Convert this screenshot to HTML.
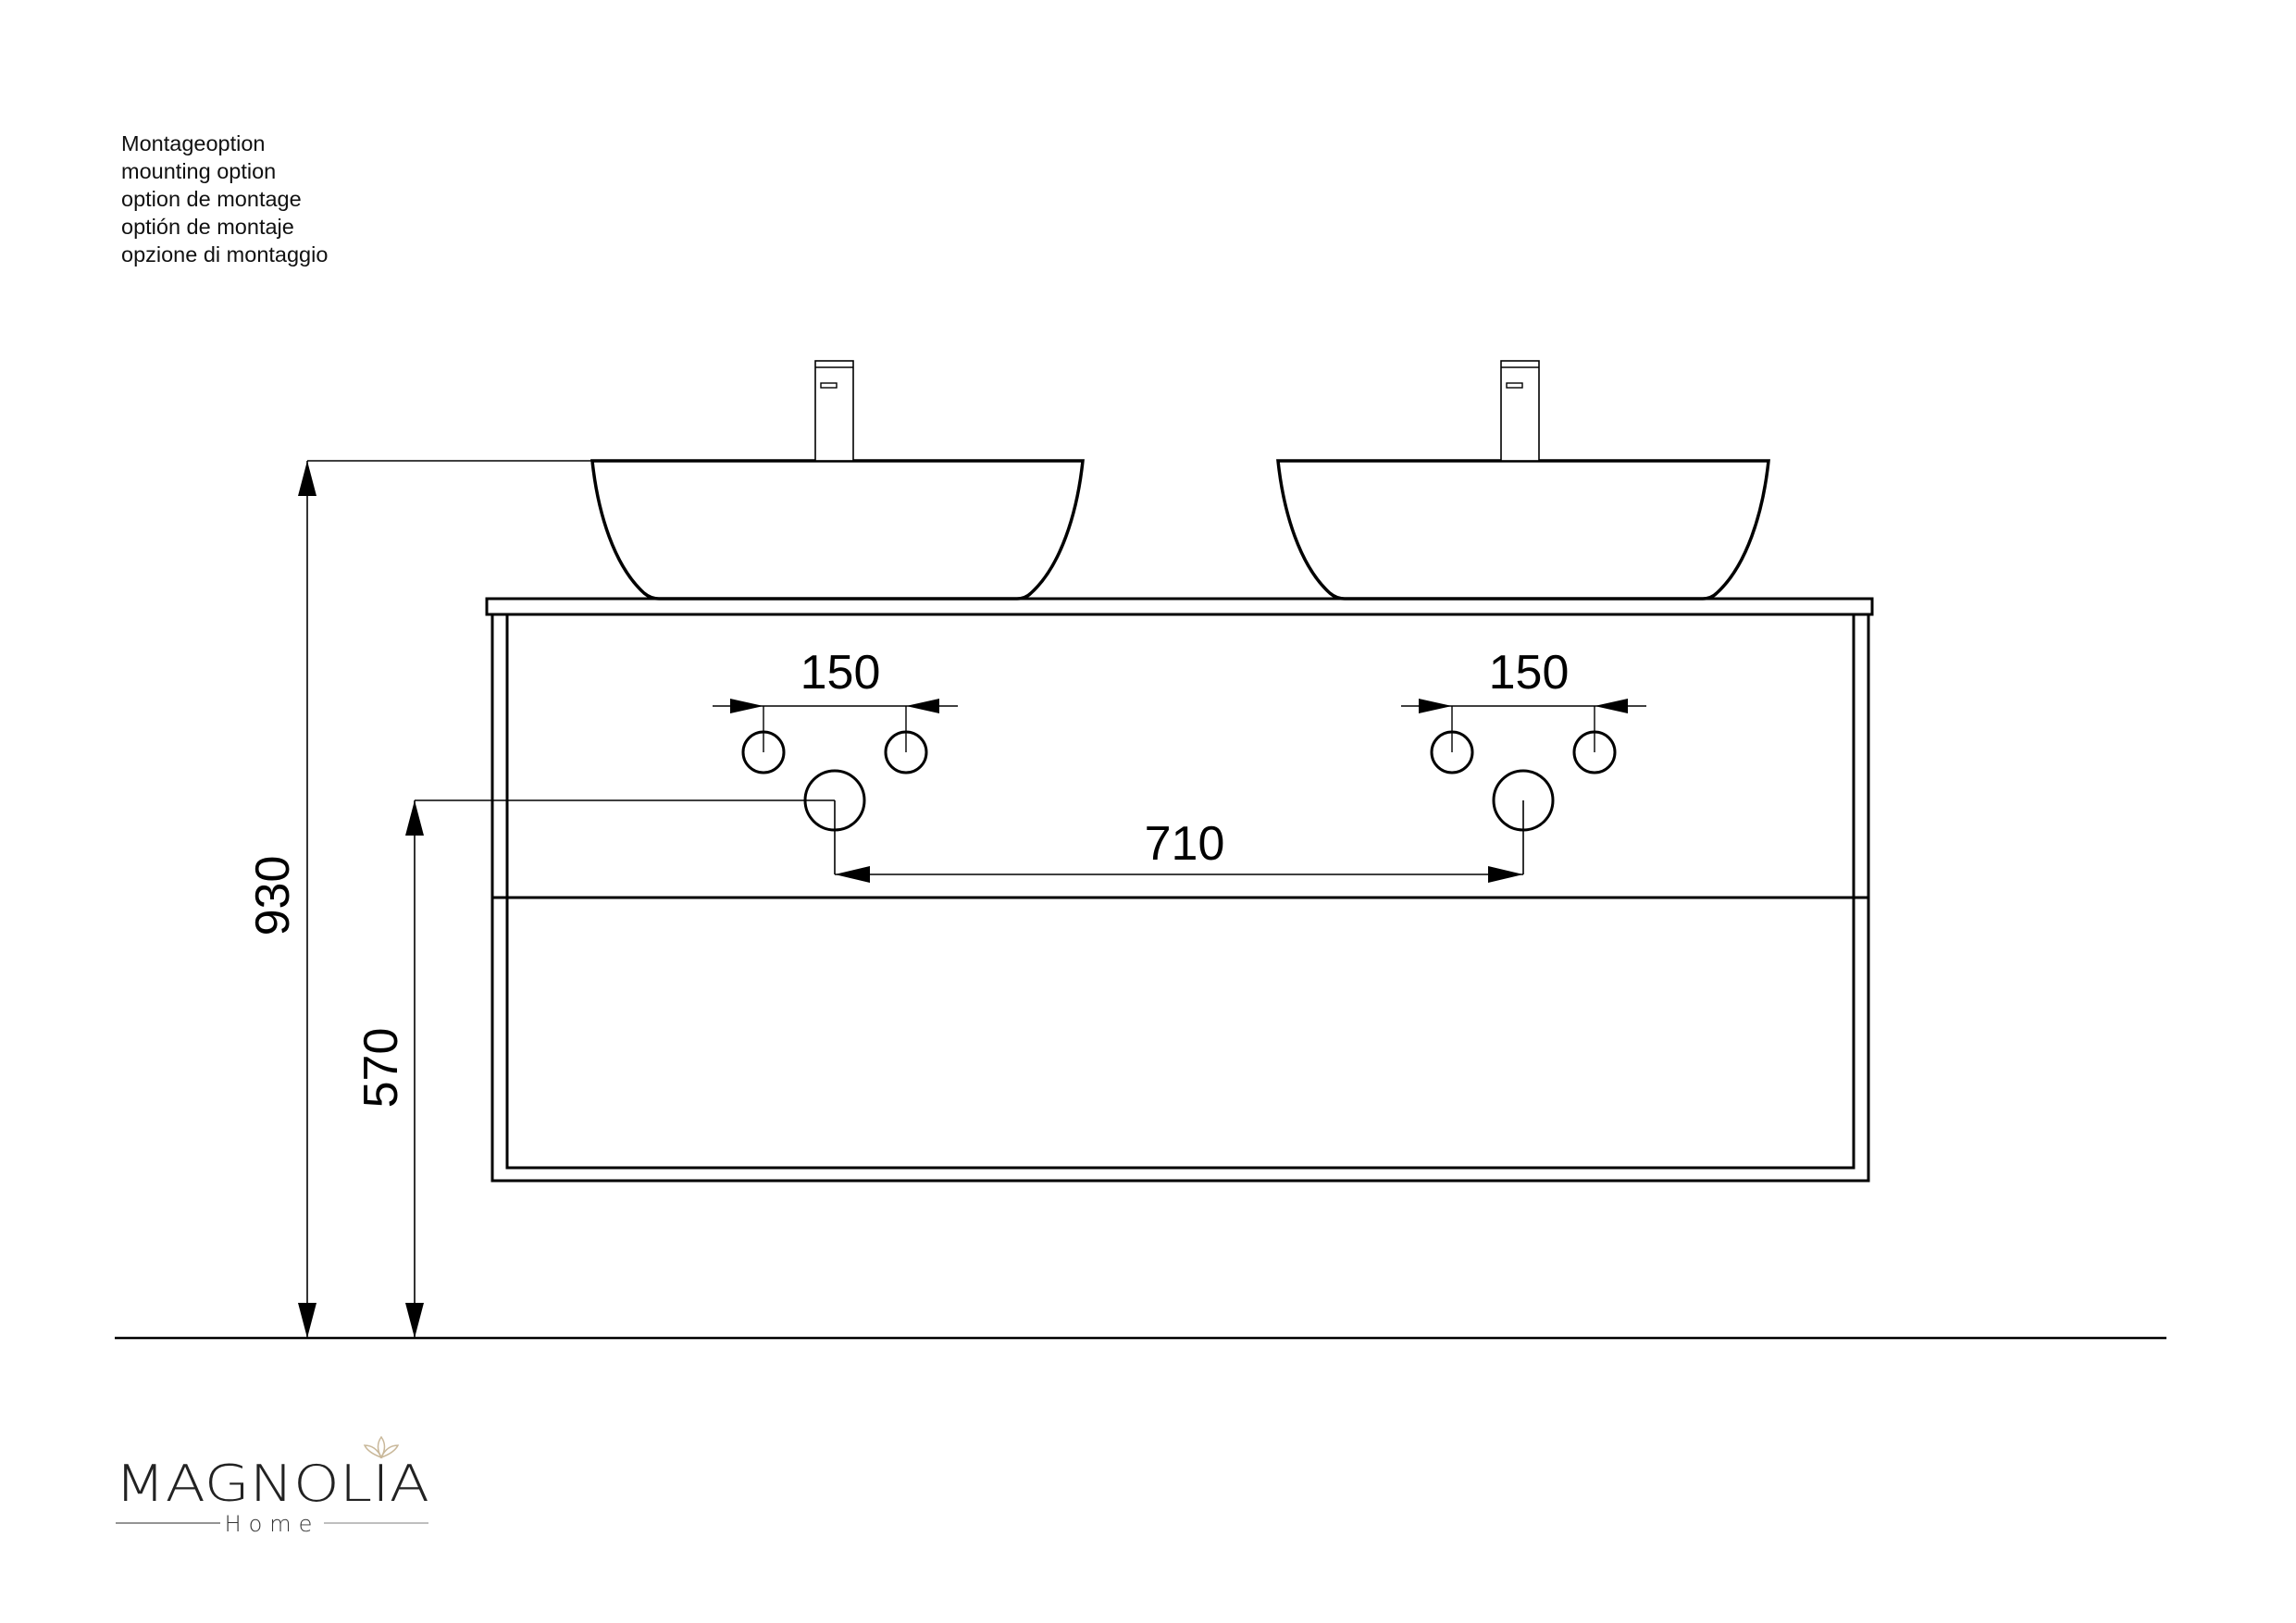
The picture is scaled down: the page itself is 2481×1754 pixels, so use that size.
<!DOCTYPE html>
<html><head><meta charset="utf-8"><style>
html,body{margin:0;padding:0;background:#fff;}
svg{display:block;}
</style></head><body>
<svg width="2481" height="1754" viewBox="0 0 2481 1754" xmlns="http://www.w3.org/2000/svg">
<defs>
<g id="basin">
  <path d="M640,498 C646,555 664,612 696,641 Q703,647 712,647 L1099,647 Q1108,647 1114,641 C1146,612 1164,555 1170,498 Z" fill="#fff" stroke="#000" stroke-width="3.5"/>
  <rect x="881" y="390" width="41" height="108" fill="#fff" stroke="#000" stroke-width="1.6"/>
  <line x1="881" y1="397" x2="922" y2="397" stroke="#000" stroke-width="1.4"/>
  <rect x="887" y="414" width="17" height="5" fill="none" stroke="#000" stroke-width="1.4"/>
</g>
<g id="holes">
  <line x1="770" y1="763" x2="1035" y2="763" stroke="#000" stroke-width="1.6"/>
  <polygon points="825,763 789,755 789,771" fill="#000"/>
  <polygon points="979,763 1015,755 1015,771" fill="#000"/>
  <line x1="825" y1="763" x2="825" y2="813" stroke="#000" stroke-width="1.4"/>
  <line x1="979" y1="763" x2="979" y2="813" stroke="#000" stroke-width="1.4"/>
  <circle cx="825" cy="813" r="22" fill="none" stroke="#000" stroke-width="3"/>
  <circle cx="979" cy="813" r="22" fill="none" stroke="#000" stroke-width="3"/>
  <circle cx="902" cy="865" r="32" fill="none" stroke="#000" stroke-width="3"/>
  <text x="908" y="744" font-family="Liberation Sans, sans-serif" font-size="52" text-anchor="middle">150</text>
</g>
</defs>

<g font-family="Liberation Sans, sans-serif" font-size="23.5" fill="#111">
<text x="131" y="163">Montageoption</text>
<text x="131" y="193">mounting option</text>
<text x="131" y="223">option de montage</text>
<text x="131" y="253">optión de montaje</text>
<text x="131" y="283">opzione di montaggio</text>
</g>

<rect x="526" y="647" width="1497" height="17" fill="#fff" stroke="#000" stroke-width="3"/>
<rect x="532" y="664" width="1487" height="612" fill="none" stroke="#000" stroke-width="3"/>
<polyline points="548,664 548,1262 2003,1262 2003,664" fill="none" stroke="#000" stroke-width="3"/>
<line x1="532" y1="970" x2="2019" y2="970" stroke="#000" stroke-width="3"/>

<use href="#basin"/>
<use href="#basin" transform="translate(741,0)"/>
<use href="#holes"/>
<use href="#holes" transform="translate(744,0)"/>

<line x1="902" y1="865" x2="902" y2="945" stroke="#000" stroke-width="1.6"/>
<line x1="1646" y1="865" x2="1646" y2="945" stroke="#000" stroke-width="1.6"/>
<line x1="902" y1="945" x2="1646" y2="945" stroke="#000" stroke-width="1.6"/>
<polygon points="902,945 940,936 940,954" fill="#000"/>
<polygon points="1646,945 1608,936 1608,954" fill="#000"/>
<text x="1280" y="929" font-family="Liberation Sans, sans-serif" font-size="52" text-anchor="middle">710</text>

<line x1="332" y1="498" x2="640" y2="498" stroke="#000" stroke-width="1.6"/>
<line x1="332" y1="498" x2="332" y2="1446" stroke="#000" stroke-width="1.6"/>
<polygon points="332,498 322,536 342,536" fill="#000"/>
<polygon points="332,1446 322,1408 342,1408" fill="#000"/>
<text transform="translate(312,968) rotate(-90)" font-family="Liberation Sans, sans-serif" font-size="52" text-anchor="middle">930</text>

<line x1="448" y1="865" x2="902" y2="865" stroke="#000" stroke-width="1.6"/>
<line x1="448" y1="865" x2="448" y2="1446" stroke="#000" stroke-width="1.6"/>
<polygon points="448,865 438,903 458,903" fill="#000"/>
<polygon points="448,1446 438,1408 458,1408" fill="#000"/>
<text transform="translate(429,1154) rotate(-90)" font-family="Liberation Sans, sans-serif" font-size="52" text-anchor="middle">570</text>

<line x1="124" y1="1446" x2="2341" y2="1446" stroke="#000" stroke-width="2.5"/>

<text x="124" y="1622" font-family="DejaVu Sans, sans-serif" font-weight="200" font-size="54" fill="#222" textLength="340" lengthAdjust="spacingAndGlyphs">MAGNOLIA</text>
<g fill="none" stroke="#c9b89a" stroke-width="1.5">
<path d="M412,1575 Q405,1563 412,1553 Q419,1563 412,1575 Z"/>
<path d="M412,1575 Q398,1570 394,1562 Q406,1562 412,1575 Z"/>
<path d="M412,1575 Q426,1570 430,1562 Q418,1562 412,1575 Z"/>
</g>
<line x1="125" y1="1646" x2="238" y2="1646" stroke="#555" stroke-width="1.2"/>
<line x1="350" y1="1646" x2="463" y2="1646" stroke="#999" stroke-width="1.2"/>
<text x="294" y="1655" font-family="DejaVu Sans, sans-serif" font-weight="200" font-size="24" fill="#333" text-anchor="middle" letter-spacing="8">Home</text>
</svg>
</body></html>
